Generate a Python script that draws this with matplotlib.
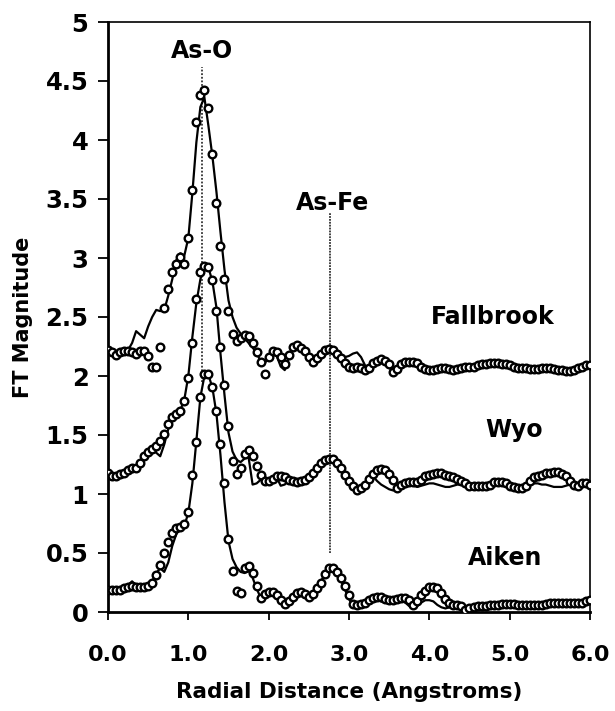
import numpy as np
import matplotlib
matplotlib.use("Agg")
import matplotlib.pyplot as plt

plt.rcParams['font.family'] = ['DejaVu Sans']
plt.rcParams['font.weight'] = 'bold'

# radial distance grid (Angstroms), 0.05 step
r = np.round(np.arange(0, 121) * 0.05, 2)

# Fallbrook (offset +2)
fallbrook_fit = [
    2.22, 2.20, 2.18, 2.20, 2.21, 2.21, 2.20, 2.19, 2.21, 2.21,
    2.17, 2.08, 2.08, 2.25, 2.58, 2.74, 2.88, 2.95, 3.01, 2.95,
    3.17, 3.58, 4.15, 4.38, 4.42, 4.27, 3.88, 3.47, 3.10, 2.82,
    2.55, 2.36, 2.30, 2.32, 2.35, 2.34, 2.28, 2.20, 2.12, 2.02,
    2.16, 2.21, 2.20, 2.16, 2.10, 2.18, 2.25, 2.26, 2.24, 2.21,
    2.16, 2.12, 2.15, 2.19, 2.22, 2.23, 2.22, 2.19, 2.15, 2.11,
    2.08, 2.07, 2.08, 2.07, 2.05, 2.07, 2.11, 2.13, 2.14, 2.13,
    2.10, 2.03, 2.06, 2.10, 2.12, 2.12, 2.12, 2.11, 2.08, 2.06,
    2.05, 2.05, 2.06, 2.07, 2.07, 2.06, 2.05, 2.06, 2.07, 2.08,
    2.08, 2.08, 2.09, 2.10, 2.10, 2.11, 2.11, 2.11, 2.10, 2.10,
    2.09, 2.08, 2.07, 2.07, 2.07, 2.06, 2.06, 2.06, 2.07, 2.07,
    2.07, 2.06, 2.05, 2.05, 2.04, 2.04, 2.05, 2.07, 2.08, 2.09,
    2.09]
fallbrook_data = [
    2.22, 2.20, 2.19, 2.20, 2.21, 2.22, 2.28, 2.38, 2.35, 2.32,
    2.42, 2.50, 2.56, 2.55, 2.56, 2.68, 2.82, 2.98, 3.04, 3.02,
    3.17, 3.55, 3.98, 4.28, 4.36, 4.12, 3.86, 3.56, 3.22, 2.90,
    2.64, 2.50, 2.41, 2.36, 2.32, 2.28, 2.24, 2.20, 2.12, 2.11,
    2.15, 2.20, 2.17, 2.08, 2.05, 2.15, 2.24, 2.27, 2.25, 2.20,
    2.15, 2.12, 2.15, 2.20, 2.23, 2.24, 2.22, 2.19, 2.17, 2.16,
    2.17, 2.19, 2.20, 2.16, 2.09, 2.05, 2.09, 2.12, 2.13, 2.12,
    2.08, 2.02, 2.06, 2.10, 2.12, 2.12, 2.11, 2.10, 2.08, 2.06,
    2.05, 2.04, 2.05, 2.06, 2.07, 2.06, 2.05, 2.05, 2.06, 2.07,
    2.08, 2.08, 2.09, 2.09, 2.10, 2.10, 2.11, 2.10, 2.10, 2.09,
    2.09, 2.08, 2.07, 2.06, 2.06, 2.06, 2.05, 2.06, 2.06, 2.07,
    2.07, 2.06, 2.05, 2.04, 2.04, 2.04, 2.05, 2.06, 2.08, 2.08,
    2.09]

# Wyo (offset +1)
wyo_fit = [
    1.18, 1.15, 1.15, 1.17, 1.18, 1.20, 1.22, 1.22, 1.26, 1.32,
    1.36, 1.38, 1.41, 1.45, 1.51, 1.59, 1.65, 1.68, 1.70, 1.79,
    1.98, 2.28, 2.65, 2.88, 2.93, 2.92, 2.81, 2.55, 2.25, 1.92,
    1.58, 1.28, 1.17, 1.22, 1.34, 1.37, 1.32, 1.24, 1.16, 1.11,
    1.11, 1.13, 1.15, 1.15, 1.14, 1.12, 1.11, 1.10, 1.11, 1.12,
    1.14, 1.18, 1.22, 1.26, 1.29, 1.30, 1.30, 1.26, 1.22, 1.16,
    1.11, 1.07, 1.03, 1.05, 1.08, 1.13, 1.17, 1.20, 1.21, 1.20,
    1.17, 1.12, 1.05, 1.08, 1.09, 1.10, 1.10, 1.10, 1.12, 1.15,
    1.16, 1.17, 1.18, 1.18, 1.16, 1.15, 1.14, 1.13, 1.11, 1.09,
    1.07, 1.07, 1.07, 1.07, 1.07, 1.08, 1.10, 1.10, 1.10, 1.09,
    1.07, 1.06, 1.05, 1.05, 1.07, 1.11, 1.14, 1.15, 1.16, 1.18,
    1.18, 1.19, 1.19, 1.17, 1.15, 1.11, 1.08, 1.07, 1.09, 1.09,
    1.08]
wyo_data = [
    1.18, 1.15, 1.15, 1.17, 1.18, 1.20, 1.22, 1.23, 1.26, 1.31,
    1.36, 1.38, 1.35, 1.32, 1.42, 1.55, 1.65, 1.70, 1.71, 1.80,
    2.00, 2.33, 2.62, 2.82, 2.92, 2.92, 2.80, 2.58, 2.19, 1.84,
    1.52, 1.36, 1.29, 1.27, 1.30, 1.31, 1.08, 1.09, 1.12, 1.14,
    1.13, 1.14, 1.14, 1.07, 1.08, 1.12, 1.11, 1.10, 1.11, 1.12,
    1.14, 1.18, 1.22, 1.26, 1.30, 1.30, 1.29, 1.27, 1.22, 1.16,
    1.11, 1.06, 1.03, 1.05, 1.09, 1.13, 1.15, 1.11, 1.08, 1.06,
    1.04, 1.03, 1.04, 1.05, 1.07, 1.08, 1.07, 1.06, 1.07, 1.08,
    1.09, 1.09, 1.08, 1.07, 1.06, 1.06, 1.07, 1.08, 1.08, 1.07,
    1.06, 1.06, 1.06, 1.06, 1.06, 1.07, 1.08, 1.09, 1.09, 1.08,
    1.07, 1.06, 1.05, 1.05, 1.06, 1.08, 1.09, 1.09, 1.08, 1.08,
    1.07, 1.06, 1.06, 1.06, 1.07, 1.08, 1.08, 1.07, 1.08, 1.09,
    1.09]

# Aiken (no offset)
aiken_fit = [
    0.19, 0.19, 0.19, 0.19, 0.20, 0.21, 0.22, 0.21, 0.21, 0.21,
    0.22, 0.25, 0.31, 0.40, 0.50, 0.59, 0.67, 0.71, 0.72, 0.75,
    0.85, 1.16, 1.44, 1.82, 2.02, 2.02, 1.91, 1.70, 1.42, 1.09,
    0.62, 0.35, 0.18, 0.16, 0.37, 0.39, 0.33, 0.22, 0.12, 0.15,
    0.17, 0.17, 0.14, 0.10, 0.07, 0.09, 0.13, 0.16, 0.17, 0.15,
    0.13, 0.15, 0.20, 0.25, 0.32, 0.37, 0.37, 0.34, 0.29, 0.22,
    0.14, 0.07, 0.06, 0.07, 0.08, 0.10, 0.12, 0.13, 0.13, 0.11,
    0.10, 0.10, 0.11, 0.12, 0.12, 0.10, 0.06, 0.09, 0.14, 0.18,
    0.21, 0.21, 0.20, 0.16, 0.11, 0.08, 0.06, 0.06, 0.05, 0.02,
    0.03, 0.04, 0.05, 0.05, 0.05, 0.06, 0.06, 0.06, 0.07, 0.07,
    0.07, 0.07, 0.06, 0.06, 0.06, 0.06, 0.06, 0.06, 0.06, 0.07,
    0.08, 0.08, 0.08, 0.08, 0.08, 0.08, 0.08, 0.08, 0.08, 0.09,
    0.10]
aiken_data = [
    0.19, 0.19, 0.19, 0.19, 0.20, 0.23, 0.26, 0.22, 0.21, 0.21,
    0.21, 0.26, 0.33, 0.37, 0.34, 0.42, 0.56, 0.66, 0.71, 0.73,
    0.84, 1.09, 1.45, 1.82, 2.00, 2.01, 1.90, 1.68, 1.33, 0.93,
    0.60, 0.45, 0.38, 0.34, 0.33, 0.35, 0.29, 0.20, 0.12, 0.13,
    0.16, 0.16, 0.13, 0.09, 0.07, 0.09, 0.12, 0.15, 0.16, 0.14,
    0.12, 0.15, 0.20, 0.26, 0.32, 0.36, 0.36, 0.33, 0.27, 0.19,
    0.11, 0.05, 0.04, 0.05, 0.07, 0.09, 0.10, 0.10, 0.09, 0.08,
    0.07, 0.08, 0.10, 0.10, 0.08, 0.05, 0.03, 0.05, 0.08, 0.10,
    0.10, 0.09, 0.06, 0.04, 0.03, 0.04, 0.05, 0.05, 0.04, 0.03,
    0.03, 0.04, 0.04, 0.05, 0.05, 0.05, 0.05, 0.06, 0.06, 0.06,
    0.06, 0.06, 0.05, 0.05, 0.05, 0.05, 0.05, 0.05, 0.05, 0.06,
    0.06, 0.06, 0.06, 0.06, 0.06, 0.07, 0.07, 0.07, 0.07, 0.08,
    0.08]

labels = ["Fallbrook", "Wyo", "Aiken"]
label_pos = [(4.79, 2.50), (5.05, 1.54), (4.94, 0.46)]

xticks = [0, 1, 2, 3, 4, 5, 6]
xticklabels = ["0.0", "1.0", "2.0", "3.0", "4.0", "5.0", "6.0"]
yticks = [0, 0.5, 1, 1.5, 2, 2.5, 3, 3.5, 4, 4.5, 5]
yticklabels = ["0", "0.5", "1", "1.5", "2", "2.5", "3", "3.5", "4", "4.5", "5"]

fig = plt.figure(figsize=(6.15, 7.11), dpi=100)
ax = fig.add_axes([108 / 615, 1 - 612 / 711, (590 - 108) / 615, (612 - 22) / 711])

for data, fit in [(fallbrook_data, fallbrook_fit), (wyo_data, wyo_fit), (aiken_data, aiken_fit)]:
    ax.plot(r, data, color='black', lw=1.6, zorder=2)
    ax.plot(r, fit, linestyle='none', marker='o', markersize=5.5,
            markerfacecolor='white', markeredgecolor='black', markeredgewidth=1.7, zorder=3)

# peak markers
ax.plot([1.17, 1.17], [1.95, 4.62], color='#333333', lw=1.3, linestyle=(0, (1, 1)), zorder=1)
ax.plot([2.76, 2.76], [0.50, 3.38], color='#333333', lw=1.3, linestyle=(0, (1, 0.6)), zorder=1)
ax.text(1.17, 4.75, "As-O", ha='center', va='center', fontsize=17, fontweight='bold')
ax.text(2.79, 3.47, "As-Fe", ha='center', va='center', fontsize=17, fontweight='bold')
for name, (tx, ty) in zip(labels, label_pos):
    ax.text(tx, ty, name, ha='center', va='center', fontsize=17, fontweight='bold')

ax.set_xlim(0, 6)
ax.set_ylim(0, 5)
ax.set_xticks(xticks)
ax.set_xticklabels(xticklabels)
ax.set_yticks(yticks)
ax.set_yticklabels(yticklabels)
ax.tick_params(axis='x', direction='out', length=6, width=1.3, labelsize=16, pad=18)
ax.tick_params(axis='y', direction='out', length=7, width=1.3, labelsize=17.5, pad=7)
for lab in ax.get_xticklabels() + ax.get_yticklabels():
    lab.set_fontweight('bold')

ax.spines['left'].set_linewidth(2.0)
ax.spines['bottom'].set_linewidth(2.0)
ax.spines['top'].set_linewidth(1.2)
ax.spines['right'].set_linewidth(1.2)

ax.set_xlabel("Radial Distance (Angstroms)", fontsize=15.5, fontweight='bold', labelpad=12)
ax.set_ylabel("FT Magnitude", fontsize=15, fontweight='bold')
ax.yaxis.set_label_coords(-0.155, 0.5)

fig.savefig("out.png", dpi=100)
